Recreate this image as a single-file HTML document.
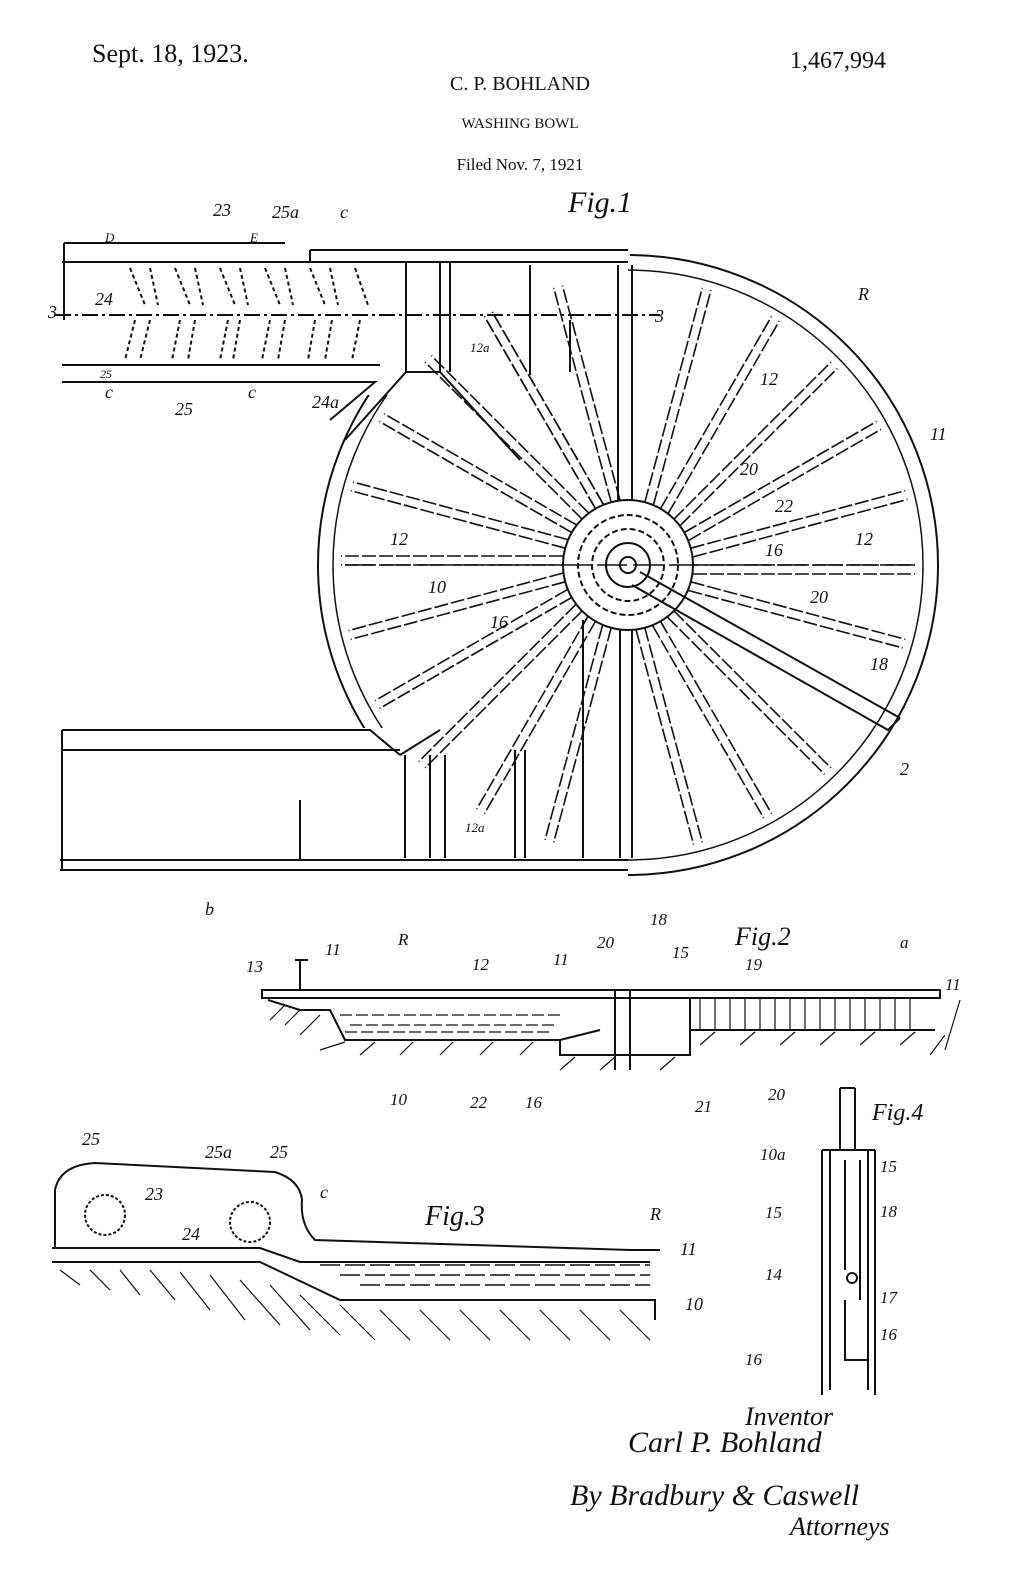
<!DOCTYPE html>
<html><head><style>
html,body{margin:0;padding:0;background:#fff;}
svg{display:block;}
text{font-family:"Liberation Serif",serif;fill:#111;}
.h{font-style:italic;}
</style></head><body>
<svg width="1028" height="1570" viewBox="0 0 1028 1570" xmlns="http://www.w3.org/2000/svg">
<g stroke="#111" fill="none" stroke-width="2">
<!-- Header -->
</g>
<text x="92" y="62" font-size="26">Sept. 18, 1923.</text>
<text x="520" y="90" font-size="20" text-anchor="middle" font-family="Liberation Sans">C. P. BOHLAND</text>
<text x="520" y="128" font-size="15" text-anchor="middle" font-family="Liberation Mono">WASHING BOWL</text>
<text x="520" y="170" font-size="17" text-anchor="middle" font-family="Liberation Mono">Filed Nov. 7, 1921</text>
<text x="790" y="68" font-size="24">1,467,994</text>
<text x="568" y="212" font-size="30" class="h">Fig.1</text>

<!-- FIG 1 -->
<g stroke="#111" fill="none" stroke-width="2">
<circle cx="628" cy="565" r="310"/>
<circle cx="628" cy="565" r="295" stroke-width="1.5"/>
<!-- top band -->
<rect x="60" y="245" width="568" height="150" fill="#fff" stroke="none"/>
<path d="M64 243 H285 M64 243 V320 M62 262 H628 M310 250 H628 M310 250 V262"/>
<path d="M62 365 H380 M62 382 H375 L330 420"/>
<path d="M406 262 V372 H440 V262 M450 262 V372 M530 265 V375 M570 320 V372 M618 265 V500 M632 265 V500"/>
<path d="M440 372 L520 460 M406 372 L345 440"/>
<!-- bottom band -->
<rect x="58" y="728" width="570" height="148" fill="#fff" stroke="none"/>
<path d="M62 730 H370 L400 755 M62 750 H400 M62 730 V870 M60 860 H628 M60 870 H628"/>
<path d="M405 755 V858 M430 755 V858 M445 755 V858 M515 750 V858 M525 750 V858 M583 620 V858 M620 630 V858 M632 630 V858 M300 800 V860 M400 755 L440 730"/>
</g>
<rect x="60" y="250" width="570" height="12" fill="#fff"/>
<g stroke="#111" fill="none" stroke-width="2">
<path d="M64 243 H285 M64 243 V320 M62 262 H628 M310 250 H628 M310 250 V262"/>
</g>
<!-- spokes -->
<g stroke="#111" stroke-width="1.6" stroke-dasharray="14 3">
<g id="sp"><line x1="693" y1="565" x2="915" y2="565"/><line x1="693" y1="574" x2="915" y2="574"/></g>
<use href="#sp" transform="rotate(-15 628 565)"/>
<use href="#sp" transform="rotate(-30 628 565)"/>
<use href="#sp" transform="rotate(-45 628 565)"/>
<use href="#sp" transform="rotate(-60 628 565)"/>
<use href="#sp" transform="rotate(-75 628 565)"/>
<use href="#sp" transform="rotate(15 628 565)"/>
<use href="#sp" transform="rotate(45 628 565)"/>
<use href="#sp" transform="rotate(60 628 565)"/>
<use href="#sp" transform="rotate(75 628 565)"/>
<use href="#sp" transform="rotate(105 628 565)"/>
<use href="#sp" transform="rotate(120 628 565)"/>
<use href="#sp" transform="rotate(135 628 565)"/>
<use href="#sp" transform="rotate(150 628 565)"/>
<use href="#sp" transform="rotate(165 628 565)"/>
<use href="#sp" transform="rotate(180 628 565)"/>
<use href="#sp" transform="rotate(195 628 565)"/>
<use href="#sp" transform="rotate(210 628 565)"/>
<use href="#sp" transform="rotate(225 628 565)"/>
<use href="#sp" transform="rotate(240 628 565)"/>
<use href="#sp" transform="rotate(-105 628 565)"/>
<use href="#sp" transform="rotate(-120 628 565)"/>
</g>
<g stroke="#111" fill="none" stroke-width="2">
<path d="M640 572 L900 718 M632 585 L888 730 L900 718"/>
<circle cx="628" cy="565" r="65"/>
<circle cx="628" cy="565" r="50" stroke-dasharray="6 3"/>
<circle cx="628" cy="565" r="36" stroke-dasharray="6 3"/>
<circle cx="628" cy="565" r="22"/>
<circle cx="628" cy="565" r="8"/>
<path d="M345 565 H915" stroke-width="1.5" stroke-dasharray="30 6"/>
</g>
<!-- spiral slots in top band -->
<g stroke="#111" stroke-width="2" stroke-dasharray="4 3">
<path d="M130 268 L145 305 M150 268 L158 305 M175 268 L190 305 M195 268 L203 305 M220 268 L235 305 M240 268 L248 305 M265 268 L280 305 M285 268 L293 305 M310 268 L325 305 M330 268 L338 305 M355 268 L368 305"/>
<path d="M135 320 L125 360 M150 320 L140 360 M180 320 L172 360 M195 320 L188 360 M228 320 L220 360 M240 320 L233 360 M270 320 L262 360 M285 320 L278 360 M315 320 L308 360 M332 320 L325 360 M360 320 L352 360"/>
<path d="M55 315 H660" stroke-dasharray="16 4 3 4"/>
</g>
<g font-size="18" class="h">
<text x="213" y="216">23</text><text x="272" y="218">25a</text><text x="340" y="218">c</text>
<text x="105" y="242" font-size="13">D</text><text x="250" y="242" font-size="13">E</text>
<text x="48" y="318">3</text><text x="95" y="305">24</text><text x="655" y="322">3</text>
<text x="470" y="352" font-size="13">12a</text><text x="100" y="378" font-size="12">25</text>
<text x="105" y="398">c</text><text x="175" y="415">25</text><text x="248" y="398">c</text><text x="312" y="408">24a</text>
<text x="858" y="300">R</text><text x="760" y="385">12</text><text x="930" y="440">11</text>
<text x="740" y="475">20</text><text x="775" y="512">22</text><text x="855" y="545">12</text><text x="765" y="556">16</text>
<text x="390" y="545">12</text><text x="428" y="593">10</text><text x="490" y="628">16</text>
<text x="810" y="603">20</text><text x="870" y="670">18</text><text x="900" y="775">2</text>
<text x="465" y="832" font-size="13">12a</text><text x="205" y="915">b</text>
</g>

<!-- FIG 2 -->
<text x="735" y="945" font-size="26" class="h">Fig.2</text>
<g stroke="#111" fill="none" stroke-width="2">
<path d="M262 990 H940 V998 H262 Z M300 960 V990 M295 960 H308"/>
<path d="M268 1000 L300 1010 H330 L345 1040 H560 L600 1030"/>
<path d="M690 998 V1030 H935"/>
<path d="M560 1040 V1055 H690 V1030 M615 990 V1070 M630 990 V1070"/>
</g>
<g stroke="#111" stroke-width="1.2">
<path d="M700 998 V1030 M715 998 V1030 M730 998 V1030 M745 998 V1030 M760 998 V1030 M775 998 V1030 M790 998 V1030 M805 998 V1030 M820 998 V1030 M835 998 V1030 M850 998 V1030 M865 998 V1030 M880 998 V1030 M895 998 V1030 M910 998 V1030"/>
<path d="M340 1015 H560 M350 1025 H555 M345 1032 H550" stroke-dasharray="12 4"/>
<path d="M270 1020 L285 1005 M285 1025 L300 1010 M300 1035 L320 1015 M320 1050 L345 1042 M360 1055 L375 1042 M400 1055 L413 1042 M440 1055 L453 1042 M480 1055 L493 1042 M520 1055 L533 1042 M560 1070 L575 1057 M600 1070 L615 1057 M660 1070 L675 1057 M700 1045 L715 1032 M740 1045 L755 1032 M780 1045 L795 1032 M820 1045 L835 1032 M860 1045 L875 1032 M900 1045 L915 1032 M930 1055 L945 1035 M945 1050 L960 1000"/>
</g>
<g font-size="17" class="h">
<text x="246" y="972">13</text><text x="325" y="955">11</text><text x="398" y="945">R</text><text x="472" y="970">12</text>
<text x="553" y="965">11</text><text x="597" y="948">20</text><text x="650" y="925">18</text><text x="672" y="958">15</text>
<text x="745" y="970">19</text><text x="900" y="948">a</text><text x="945" y="990">11</text>
<text x="390" y="1105">10</text><text x="470" y="1108">22</text><text x="525" y="1108">16</text><text x="695" y="1112">21</text><text x="768" y="1100">20</text>
</g>

<!-- FIG 3 -->
<text x="425" y="1225" font-size="28" class="h">Fig.3</text>
<g stroke="#111" fill="none" stroke-width="2">
<path d="M55 1248 V1190 Q60 1165 95 1163 L275 1172 Q300 1180 302 1200 Q300 1225 315 1240 L630 1250 H660"/>
<circle cx="105" cy="1215" r="20" stroke-dasharray="3 2"/>
<circle cx="250" cy="1222" r="20" stroke-dasharray="3 2"/>
<path d="M52 1248 H260 L300 1262 H650 M52 1262 H260 L340 1300 H655 V1320"/>
<path d="M320 1265 H650 M340 1275 H650 M360 1285 H650" stroke-dasharray="20 5" stroke-width="1.4"/>
</g>
<g stroke="#111" stroke-width="1.2">
<path d="M60 1270 L80 1285 M90 1270 L110 1290 M120 1270 L140 1295 M150 1270 L175 1300 M180 1272 L210 1310 M210 1275 L245 1320 M240 1280 L280 1325 M270 1285 L310 1330 M300 1295 L340 1335 M340 1305 L375 1340 M380 1310 L410 1340 M420 1310 L450 1340 M460 1310 L490 1340 M500 1310 L530 1340 M540 1310 L570 1340 M580 1310 L610 1340 M620 1310 L650 1340"/>
</g>
<g font-size="18" class="h">
<text x="82" y="1145">25</text><text x="205" y="1158">25a</text><text x="270" y="1158">25</text><text x="320" y="1198">c</text>
<text x="145" y="1200">23</text><text x="182" y="1240">24</text><text x="650" y="1220">R</text>
<text x="680" y="1255">11</text><text x="685" y="1310">10</text>
</g>

<!-- FIG 4 -->
<text x="872" y="1120" font-size="24" class="h">Fig.4</text>
<g stroke="#111" fill="none" stroke-width="2">
<path d="M840 1088 V1150 M855 1088 V1150 M840 1088 H855"/>
<path d="M822 1150 V1395 M875 1150 V1395 M830 1150 V1390 M868 1150 V1390 M822 1150 H875"/>
<path d="M845 1160 V1270 M860 1160 V1300 M845 1300 V1360 H868"/>
<circle cx="852" cy="1278" r="5"/>
</g>
<g font-size="17" class="h">
<text x="760" y="1160">10a</text><text x="880" y="1172">15</text><text x="765" y="1218">15</text><text x="880" y="1217">18</text>
<text x="765" y="1280">14</text><text x="880" y="1303">17</text><text x="880" y="1340">16</text><text x="745" y="1365">16</text>
</g>

<!-- Signatures -->
<g class="h" font-size="30">
<text x="745" y="1425" font-size="26">Inventor</text>
<text x="628" y="1452">Carl P. Bohland</text>
<text x="570" y="1505">By Bradbury &amp; Caswell</text>
<text x="790" y="1535" font-size="26">Attorneys</text>
</g>
</svg>
</body></html>
